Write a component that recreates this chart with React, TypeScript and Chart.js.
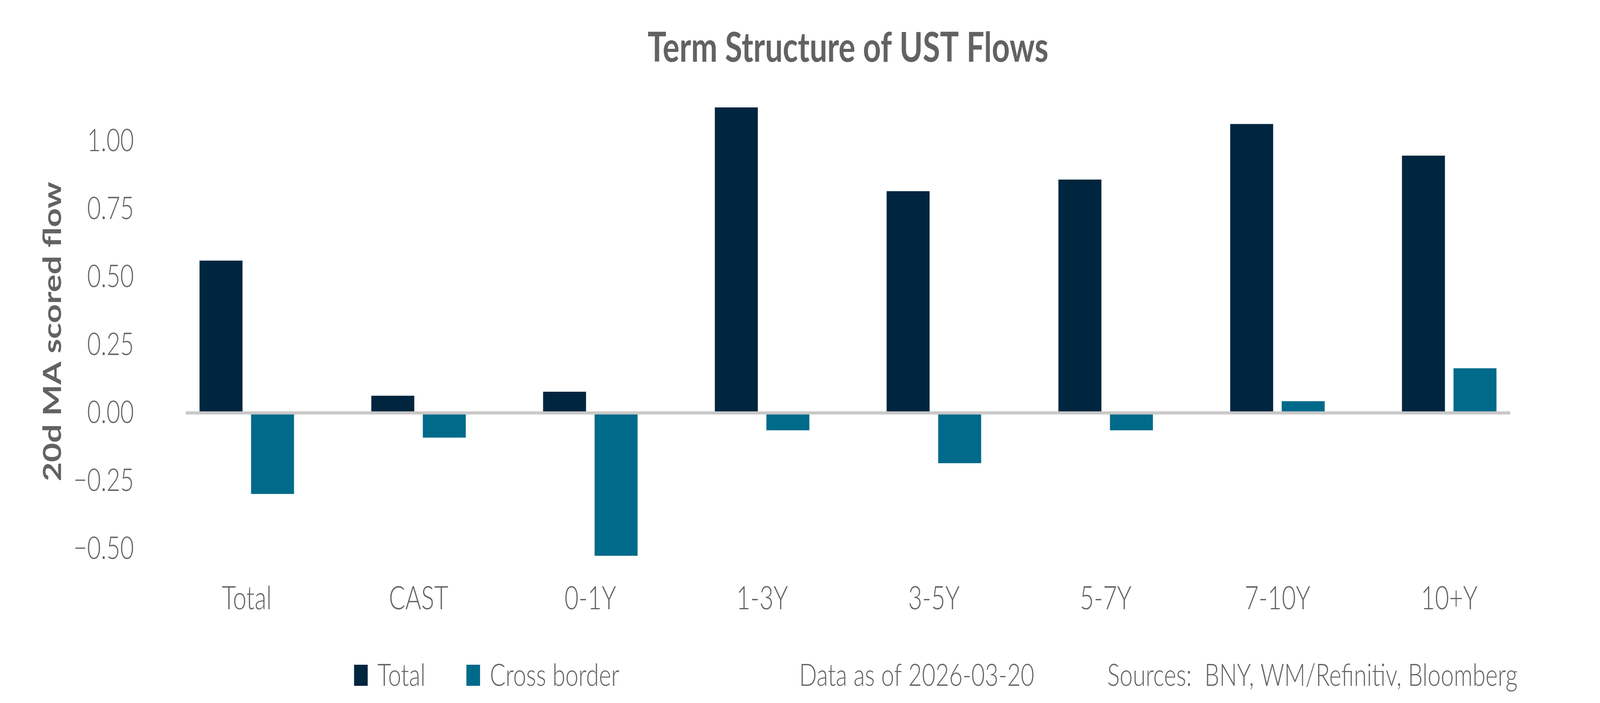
import React, { useEffect, useRef } from 'react';
import { Chart, registerables } from 'chart.js';

Chart.register(...registerables);

// chart data
const categories = ['Total', 'CAST', '0-1Y', '1-3Y', '3-5Y', '5-7Y', '7-10Y', '10+Y'];
const totalFlow = [0.56, 0.063, 0.078, 1.123, 0.815, 0.858, 1.062, 0.946];
const crossBorderFlow = [-0.298, -0.091, -0.525, -0.064, -0.185, -0.064, 0.043, 0.164];
const yTicks = [-0.5, -0.25, 0, 0.25, 0.5, 0.75, 1.0];
const seriesNames = ['Total', 'Cross border'];
const seriesColors = ['#00253f', '#006a8a'];

const titleText = 'Term Structure of UST Flows';
const yAxisTitle = '20d MA scored flow';
const dataNote = 'Data as of 2026-03-20';
const sourceNote = 'Sources:  BNY, WM/Refinitiv, Bloomberg';

const FONT = 'Lato';
const TEXT_COLOR = '#616264';
const W = 5400;
const H = 1800;

const fmtTick = (v: number) => v.toFixed(2).replace('-', '\u2212');

// zero line, titles, legend and footnotes
const decorations = {
  id: 'decorations',
  afterDatasetsDraw(chart: any) {
    const { ctx, scales } = chart;
    const x = scales.x;
    const y = scales.y;
    const step = x.getPixelForTick(1) - x.getPixelForTick(0);
    const x0 = x.getPixelForTick(0) - step * 0.355;
    const x1 = x.getPixelForTick(categories.length - 1) + step * 0.355;
    const y0 = y.getPixelForValue(0);
    ctx.save();
    ctx.strokeStyle = '#c8c8c8';
    ctx.lineWidth = 8;
    ctx.beginPath();
    ctx.moveTo(x0, y0);
    ctx.lineTo(x1, y0);
    ctx.stroke();
    ctx.restore();
  },
  afterDraw(chart: any) {
    const { ctx, chartArea } = chart;
    ctx.save();
    ctx.fillStyle = TEXT_COLOR;

    // title
    ctx.font = `bold 106px ${FONT}`;
    ctx.textAlign = 'center';
    ctx.textBaseline = 'alphabetic';
    ctx.fillText(titleText, (chartArea.left + chartArea.right) / 2, 158);

    // y axis title
    ctx.save();
    ctx.translate(206, (chartArea.top + chartArea.bottom) / 2);
    ctx.rotate(-Math.PI / 2);
    ctx.font = `bold 85px ${FONT}`;
    ctx.textAlign = 'center';
    ctx.fillText(yAxisTitle, 0, 0);
    ctx.restore();

    // legend
    const base = 1756;
    ctx.font = `300 79px ${FONT}`;
    ctx.textAlign = 'left';
    const legendX = [1195, 1574];
    seriesNames.forEach((name, i) => {
      ctx.fillStyle = seriesColors[i];
      ctx.fillRect(legendX[i], 1702, 46, 54);
      ctx.fillStyle = TEXT_COLOR;
      ctx.fillText(name, legendX[i] + 79, base);
    });

    // notes
    ctx.fillText(dataNote, 2697, base);
    ctx.fillText(sourceNote, 3737, base);
    ctx.restore();
  },
};

const App: React.FC = () => {
  const canvasRef = useRef<HTMLCanvasElement>(null);
  const chartRef = useRef<Chart | null>(null);

  // the chart is laid out on a 5400 x 1800 box and scaled to the window
  const kx = window.innerWidth / W;
  const ky = window.innerHeight / H;

  useEffect(() => {
    if (!canvasRef.current) return;
    if (chartRef.current) chartRef.current.destroy();

    chartRef.current = new Chart(canvasRef.current, {
      type: 'bar',
      data: {
        labels: categories,
        datasets: [
          {
            label: seriesNames[0],
            data: totalFlow,
            backgroundColor: seriesColors[0],
            borderWidth: 0,
            categoryPercentage: 0.6,
            barPercentage: 0.834,
          },
          {
            label: seriesNames[1],
            data: crossBorderFlow,
            backgroundColor: seriesColors[1],
            borderWidth: 0,
            categoryPercentage: 0.6,
            barPercentage: 0.834,
          },
        ],
      },
      options: {
        animation: false,
        responsive: true,
        maintainAspectRatio: false,
        devicePixelRatio: 1,
        layout: { padding: { left: 250, right: 219, top: 218, bottom: 200 } },
        plugins: {
          legend: { display: false },
          title: { display: false },
          tooltip: { enabled: false },
        },
        scales: {
          x: {
            grid: { display: false, drawTicks: false },
            border: { display: false },
            ticks: {
              color: TEXT_COLOR,
              padding: 4,
              font: { family: FONT, size: 82, weight: '300' },
            },
            afterFit: (s: any) => {
              s.height = 120;
            },
          },
          y: {
            min: -0.607,
            max: 1.205,
            grid: { display: false, drawTicks: false },
            border: { display: false },
            ticks: {
              color: TEXT_COLOR,
              padding: 91,
              font: { family: FONT, size: 80, weight: '300' },
              callback: (v: any) => fmtTick(Number(v)),
            },
            afterBuildTicks: (s: any) => {
              s.ticks = yTicks.map((v) => ({ value: v }));
            },
            afterFit: (s: any) => {
              s.width = 293;
            },
          },
        },
      },
      plugins: [decorations],
    });

    return () => {
      if (chartRef.current) {
        chartRef.current.destroy();
        chartRef.current = null;
      }
    };
  }, []);

  return (
    <div style={{ position: 'fixed', left: 0, top: 0, width: '100vw', height: '100vh', overflow: 'hidden', background: '#fff' }}>
      <div
        style={{
          position: 'absolute',
          left: 0,
          top: 0,
          width: `${W}px`,
          height: `${H}px`,
          transform: `scale(${kx}, ${ky})`,
          transformOrigin: '0 0',
        }}
      >
        <canvas ref={canvasRef}></canvas>
      </div>
    </div>
  );
};

export default App;
